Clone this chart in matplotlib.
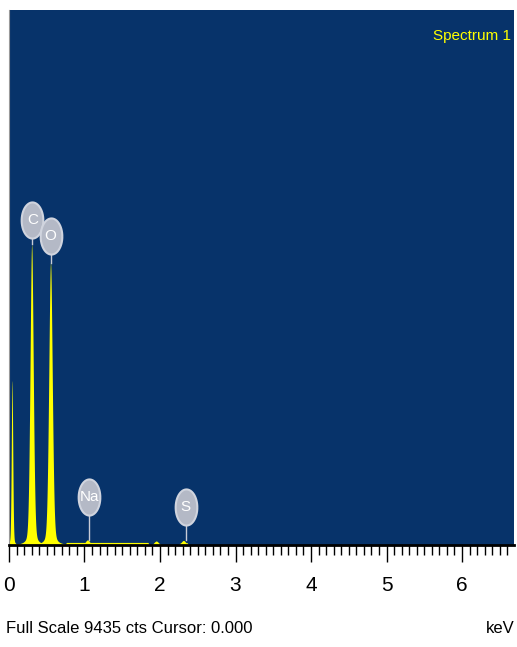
import numpy as np
import matplotlib.pyplot as plt
from matplotlib.path import Path

# peaks (keV, counts, width)
pk_e = [0.04, 0.30, 0.55, 1.04, 1.95, 2.31]
pk_h = [2900, 5300, 4980, 90, 70, 80]
pk_w = [0.010, 0.022, 0.024, 0.03, 0.03, 0.03]
# low plateau of counts between ~0.75 and 1.85 keV
plat_e = [0.0, 0.74, 0.76, 1.84, 1.86, 2.25, 2.27, 2.36, 2.38, 6.7]
plat_c = [0, 0, 45, 45, 0, 0, 40, 40, 0, 0]

labels = ['C', 'O', 'Na', 'S']
lab_e = [0.31, 0.55, 1.06, 2.34]
lab_y = [5730, 5450, 846, 670]
lab_base = [5300, 4980, 90, 80]
full_scale = 9435

e = np.linspace(0, 6.7, 6000)
cts = np.interp(e, plat_e, plat_c)
for c, h, w in zip(pk_e, pk_h, pk_w):
    prof = 0.75 * np.exp(-0.5 * ((e - c) / w) ** 2) + 0.25 / (1 + ((e - c) / w) ** 2)
    cts = np.maximum(cts, h * prof)

t = np.linspace(0, 2 * np.pi, 60)
oval = Path(np.column_stack([0.6 * np.cos(t), np.sin(t)]))

fig = plt.figure(figsize=(5.17, 6.47), dpi=100)
ax = fig.add_axes([0.0174, 0.1577, 0.977, 0.827])
ax.set_facecolor('#07336a')
ax.fill_between(e, 0, cts, color='#ffff00', lw=0)
ax.set_xlim(0, 6.69)
ax.set_ylim(0, full_scale)

for lab, x, y, b in zip(labels, lab_e, lab_y, lab_base):
    ax.plot([x, x], [b, y], color='#c8ccd6', lw=1)
    ax.plot(x, y, marker=oval, ms=26, color='#b4b9c6', mec='#d0d4de', mew=1.5)
    ax.text(x, y, lab, color='white', ha='center', va='center', fontsize=11,
            fontfamily='Liberation Sans')

ax.text(0.993, 0.965, 'Spectrum 1', transform=ax.transAxes, color='#ffff00',
        ha='right', va='top', fontsize=11, fontfamily='Liberation Sans')

ax.set_yticks([])
ax.set_xticks(np.arange(0, 7, 1))
ax.set_xticks(np.arange(0, 6.7, 0.1), minor=True)
ax.tick_params(axis='x', which='major', length=12, width=1, labelsize=15, pad=10)
ax.tick_params(axis='x', which='minor', length=7, width=1)
for tl in ax.get_xticklabels():
    tl.set_fontfamily('Liberation Sans')
for s in ['top', 'right']:
    ax.spines[s].set_visible(False)
ax.spines['left'].set_color('#999999')
ax.spines['bottom'].set_linewidth(2)

fig.text(0.012, 0.022, 'Full Scale 9435 cts Cursor: 0.000', fontsize=12,
         fontfamily='Liberation Sans')
fig.text(0.995, 0.022, 'keV', fontsize=12, ha='right', fontfamily='Liberation Sans')

fig.savefig('out.png', dpi=100)
